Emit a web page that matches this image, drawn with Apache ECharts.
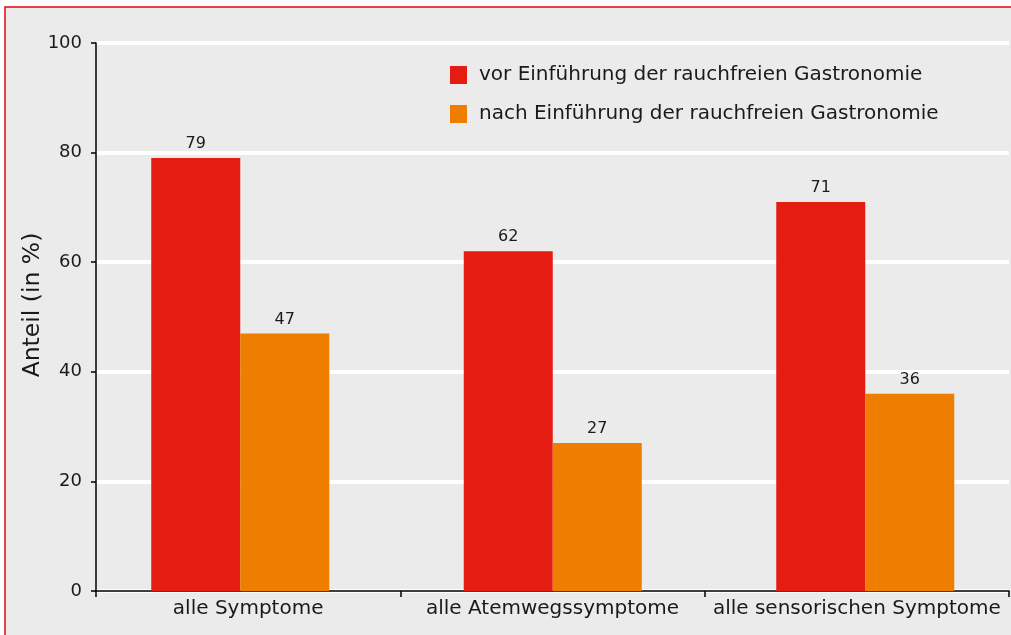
<!DOCTYPE html>
<html lang="de" style="height: 100%">
<head>
  <meta charset="utf-8" />
</head>
<body style="height: 100%; margin: 0; background: #fff">
  <div id="container" style="width: 1011px; height: 635px"></div>
  <script src="https://cdn.jsdelivr.net/npm/echarts@6/dist/echarts.min.js"></script>
  <script type="text/javascript">
    var categories = ["alle Symptome", "alle Atemwegssymptome", "alle sensorischen Symptome"];
    var seriesNames = [
      "vor Einführung der rauchfreien Gastronomie",
      "nach Einführung der rauchfreien Gastronomie"
    ];
    var vorValues = [79, 62, 71];
    var nachValues = [47, 27, 36];
    var yTicks = [0, 20, 40, 60, 80, 100];

    var fontFam = "'DejaVu Sans', Verdana, sans-serif";
    var textCol = "#1a1a1a";

    // bars sit on a hidden numeric axis (one unit per category) so the groups can be spaced like the original
    function pairs(values) {
      return values.map(function (v, i) { return [i, v]; });
    }

    var myChart = echarts.init(document.getElementById("container"), null, { renderer: "canvas" });

    var barLabel = { show: true, position: "top", distance: 6, fontSize: 16, color: textCol, fontFamily: fontFam };

    var option = {
      backgroundColor: "#ffffff",
      animation: false,
      textStyle: { fontFamily: fontFam },
      graphic: [
        {
          type: "rect",
          z: -10,
          shape: { x: 5, y: 7, width: 1020, height: 640 },
          style: { fill: "#ebebeb", stroke: "#e30613", lineWidth: 1.5 }
        }
      ],
      legend: {
        orient: "vertical",
        left: 445,
        top: 60,
        itemWidth: 17,
        itemHeight: 18,
        itemGap: 19,
        icon: "rect",
        data: seriesNames,
        textStyle: { fontSize: 20, color: textCol, fontFamily: fontFam, padding: [0, 0, 0, 7] }
      },
      grid: [
        { left: 96, right: 2, top: 43, bottom: 44 },
        { left: 84, right: 2, top: 43, bottom: 44 }
      ],
      xAxis: [
        {
          type: "category",
          gridIndex: 0,
          data: categories,
          axisLine: { lineStyle: { color: "#000", width: 1.5 } },
          axisTick: { show: true, interval: 0, length: 6, lineStyle: { color: "#000", width: 1.5 } },
          axisLabel: { interval: 0, fontSize: 20, color: textCol, margin: 8, fontFamily: fontFam }
        },
        {
          type: "value",
          gridIndex: 1,
          min: -0.5,
          max: 925 / 312.5 - 0.5,
          show: false
        }
      ],
      yAxis: [
        {
          type: "value",
          gridIndex: 0,
          min: 0,
          max: 100,
          interval: 20,
          name: "Anteil (in %)",
          nameLocation: "middle",
          nameGap: 51,
          nameMoveOverlap: false,
          nameTextStyle: { fontSize: 23.5, color: textCol, fontFamily: fontFam, padding: [0, 0, 0, 24] },
          axisLine: { show: true, lineStyle: { color: "#000", width: 1.5 } },
          axisTick: { show: true, length: 5, lineStyle: { color: "#000", width: 1.5 } },
          axisLabel: {
            fontSize: 18,
            color: textCol,
            margin: 14,
            fontFamily: fontFam,
            formatter: function (v) { return yTicks.indexOf(v) >= 0 ? String(v) : ""; }
          },
          splitLine: { show: true, lineStyle: { color: "#ffffff", width: 4 } }
        },
        {
          type: "value",
          gridIndex: 1,
          min: 0,
          max: 100,
          show: false
        }
      ],
      series: [
        {
          name: seriesNames[0],
          type: "bar",
          xAxisIndex: 1,
          yAxisIndex: 1,
          data: pairs(vorValues),
          barWidth: 89,
          barGap: "0%",
          itemStyle: { color: "#e41c12" },
          label: barLabel
        },
        {
          name: seriesNames[1],
          type: "bar",
          xAxisIndex: 1,
          yAxisIndex: 1,
          data: pairs(nachValues),
          barWidth: 89,
          barGap: "0%",
          itemStyle: { color: "#ef7d00" },
          label: barLabel
        }
      ]
    };

    myChart.setOption(option);
    window.addEventListener("resize", myChart.resize);
  </script>
</body>
</html>
